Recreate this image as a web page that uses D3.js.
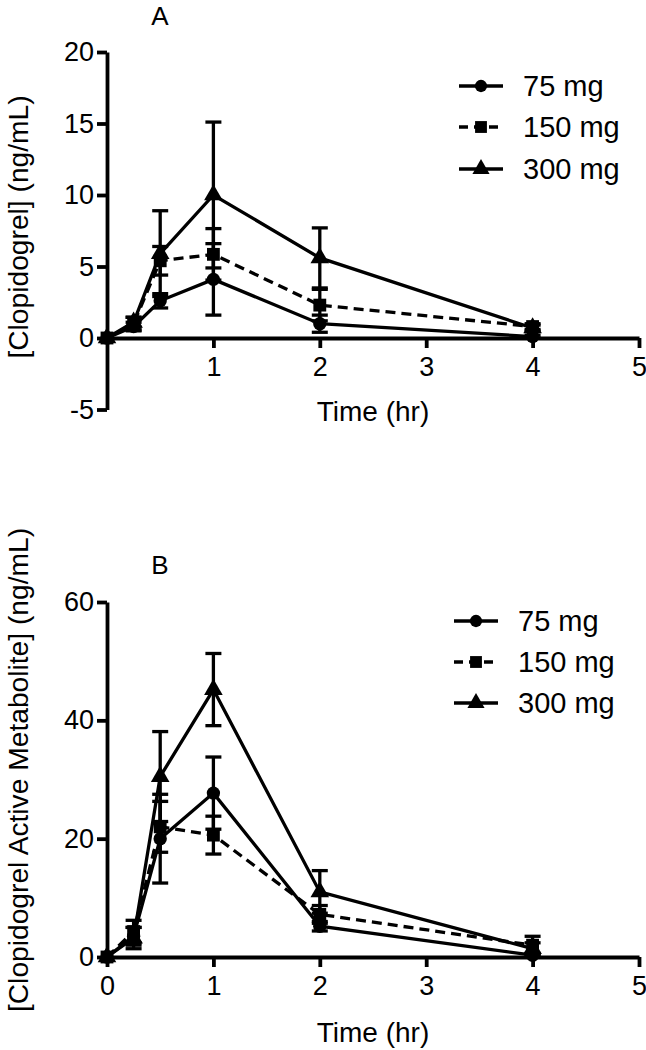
<!DOCTYPE html>
<html>
<head>
<meta charset="utf-8">
<script src="https://cdn.jsdelivr.net/npm/d3@7"></script>
<style>
  html, body { margin: 0; padding: 0; background: #fff; }
  svg { display: block; }
  text { font-family: Arial, "Liberation Sans", sans-serif; fill: #000; }
</style>
</head>
<body>
<svg id="chart" width="646" height="1050"></svg>
<script>
// ---------- data ----------
const times = [0, 0.25, 0.5, 1, 2, 4];
const doses = ["75 mg", "150 mg", "300 mg"];

// Panel A: Clopidogrel (ng/mL), mean and SD
const a75    = [0, 0.8, 2.6, 4.1, 1.0, 0.1];
const a75sd  = [0, 0.3, 0.5, 2.5, 0.6, 0.1];
const a150   = [0, 1.0, 5.4, 5.85, 2.3, 0.8];
const a150sd = [0, 0.45, 1.0, 1.8, 1.1, 0.2];
const a300   = [0, 1.1, 5.9, 10.0, 5.6, 0.7];
const a300sd = [0, 0.35, 3.0, 5.1, 2.1, 0.2];

// Panel B: Clopidogrel active metabolite (ng/mL), mean and SD
const b75    = [0, 3.5, 20.0, 27.7, 5.2, 0.3];
const b75sd  = [0, 1.5, 7.5, 6.1, 0.8, 0.3];
const b150   = [0, 4.3, 22.0, 20.6, 7.2, 2.0];
const b150sd = [0, 1.9, 4.3, 3.2, 1.5, 1.5];
const b300   = [0, 3.2, 30.5, 45.2, 11.0, 1.4];
const b300sd = [0, 1.8, 7.6, 6.1, 3.6, 1.0];

const aYTicks = [-5, 0, 5, 10, 15, 20];
const aXTicks = [1, 2, 3, 4, 5];
const bYTicks = [0, 20, 40, 60];
const bXTicks = [0, 1, 2, 3, 4, 5];

// ---------- drawing ----------
const svg = d3.select("#chart");
svg.append("rect").attr("width", 646).attr("height", 1050).attr("fill", "#fff");

const symbols = [d3.symbolCircle, d3.symbolSquare, d3.symbolTriangle];
const symSizes = [140, 165, 150];
const dashes = [null, "10,6", null];
const fmt = v => String(v);  // plain hyphen-minus, integer labels

function panel(cfg) {
  const g = svg.append("g");
  const x = d3.scaleLinear().domain([0, 5]).range([107, 639]);
  const y = d3.scaleLinear().domain(cfg.yDomain).range(cfg.yRange);

  // y axis
  const ya = g.append("g").attr("transform", "translate(107,0)")
    .call(d3.axisLeft(y).tickValues(cfg.yTicks).tickFormat(fmt)
      .tickSize(10).tickSizeOuter(0).tickPadding(3));
  // x axis at y = 0
  const xa = g.append("g").attr("transform", `translate(0,${y(0)})`)
    .call(d3.axisBottom(x).tickValues(cfg.xTicks).tickFormat(fmt)
      .tickSize(10).tickSizeOuter(0).tickPadding(9));
  [ya, xa].forEach(a => {
    a.selectAll("path, line").attr("stroke", "#000").attr("stroke-width", 3.8);
    a.selectAll("text").attr("font-size", 27).attr("fill", "#000")
      .attr("font-family", 'Arial, "Liberation Sans", sans-serif');
  });

  // titles
  g.append("text").attr("x", 160).attr("y", cfg.letterY).attr("text-anchor", "middle")
    .attr("font-size", 26).text(cfg.letter);
  g.append("text").attr("x", 373).attr("y", cfg.xTitleY).attr("text-anchor", "middle")
    .attr("font-size", 28).text("Time (hr)");
  g.append("text")
    .attr("transform", `translate(28,${cfg.yTitleCY}) rotate(-90)`)
    .attr("text-anchor", "middle").attr("font-size", 28.2).text(cfg.yTitle);

  const line = d3.line().x(d => x(d.t)).y(d => y(d.v));

  cfg.series.forEach((s, i) => {
    const pts = times.map((t, k) => ({ t, v: s.mean[k], sd: s.sd[k] }));
    const sg = g.append("g");
    sg.append("path").datum(pts).attr("d", line)
      .attr("fill", "none").attr("stroke", "#000").attr("stroke-width", 3.3)
      .attr("stroke-dasharray", dashes[i]);
    // error bars
    const eb = sg.selectAll("g.eb").data(pts.filter(p => p.sd > 0)).join("g");
    eb.append("line")
      .attr("x1", d => x(d.t)).attr("x2", d => x(d.t))
      .attr("y1", d => y(d.v - d.sd)).attr("y2", d => y(d.v + d.sd))
      .attr("stroke", "#000").attr("stroke-width", 3.3);
    [-1, 1].forEach(sign => {
      eb.append("line")
        .attr("x1", d => x(d.t) - 8).attr("x2", d => x(d.t) + 8)
        .attr("y1", d => y(d.v + sign * d.sd)).attr("y2", d => y(d.v + sign * d.sd))
        .attr("stroke", "#000").attr("stroke-width", 3.3);
    });
    // markers
    sg.selectAll("path.m").data(pts).join("path")
      .attr("transform", d => `translate(${x(d.t)},${y(d.v)})`)
      .attr("d", d3.symbol().type(symbols[i]).size(symSizes[i]))
      .attr("fill", "#000");
  });

  // legend
  const lg = g.append("g");
  doses.forEach((name, i) => {
    const yy = cfg.legY[i];
    lg.append("line").attr("x1", cfg.legX).attr("x2", cfg.legX + 44)
      .attr("y1", yy).attr("y2", yy)
      .attr("stroke", "#000").attr("stroke-width", 3.3)
      .attr("stroke-dasharray", i === 1 ? "9,6" : null);
    lg.append("path").attr("transform", `translate(${cfg.legX + 22},${yy})`)
      .attr("d", d3.symbol().type(symbols[i]).size(symSizes[i] * 0.85)).attr("fill", "#000");
    lg.append("text").attr("x", cfg.legX + 64).attr("y", yy + 10)
      .attr("font-size", 29).text(name);
  });
}

panel({
  yDomain: [-5, 20], yRange: [409.5, 52],
  yTicks: aYTicks, xTicks: aXTicks,
  letter: "A", letterY: 25, xTitleY: 421, yTitleCY: 227,
  yTitle: "[Clopidogrel] (ng/mL)",
  series: [
    { mean: a75, sd: a75sd },
    { mean: a150, sd: a150sd },
    { mean: a300, sd: a300sd }
  ],
  legX: 459, legY: [86, 127, 169]
});

panel({
  yDomain: [0, 60], yRange: [957, 602],
  yTicks: bYTicks, xTicks: bXTicks,
  letter: "B", letterY: 574, xTitleY: 1042, yTitleCY: 770,
  yTitle: "[Clopidogrel Active Metabolite] (ng/mL)",
  series: [
    { mean: b75, sd: b75sd },
    { mean: b150, sd: b150sd },
    { mean: b300, sd: b300sd }
  ],
  legX: 454, legY: [621, 662, 703]
});
</script>
</body>
</html>
